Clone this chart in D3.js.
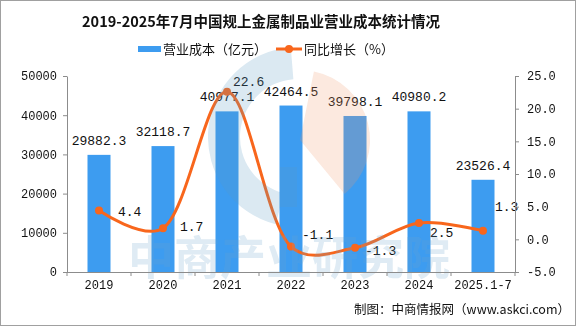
<!DOCTYPE html>
<html>
<head>
<meta charset="utf-8">
<script src="https://cdn.jsdelivr.net/npm/d3@7"></script>
<style>
  body { margin: 0; background: #fff; }
  svg { display: block; }
</style>
</head>
<body>
<svg></svg>
<script>
const width = 576;
const height = 326;
const margin = {top: 76, right: 61, bottom: 54, left: 67};

// data
const years = ["2019", "2020", "2021", "2022", "2023", "2024", "2025.1-7"];
const cost = [29882.3, 32118.7, 40977.1, 42464.5, 39798.1, 40980.2, 23526.4];
const growth = [4.4, 1.7, 22.6, -1.1, -1.3, 2.5, 1.3];
const leftTicks = [0, 10000, 20000, 30000, 40000, 50000];
const rightTicks = [-5, 0, 5, 10, 15, 20, 25];
// label nudges for the growth labels (dx, dy)
const growthLabelShift = [[19, 1], [17, -2], [6, -10], [11, -12], [10, 3], [11, 9], [12, -24]];

const barColor = "#3d9cf0";
const lineColor = "#f8661c";
const axisColor = "#8c8c8c";
const monoFont = "'Liberation Mono', 'DejaVu Sans Mono', monospace";
const cjkFont = "'Noto Sans CJK SC', sans-serif";

let svg = d3.select("svg")
    .attr("width", width)
    .attr("height", height);

// outer frame
svg.append("rect")
    .attr("x", 0.5).attr("y", 0.5)
    .attr("width", width - 1).attr("height", height - 1)
    .attr("fill", "#fff")
    .attr("stroke", "#a0a0a0");

let scaleX = d3.scaleBand()
    .domain(years)
    .range([margin.left, width - margin.right])
    .paddingInner(0)
    .paddingOuter(0);

let scaleY = d3.scaleLinear()
    .domain([0, 50000])
    .range([height - margin.bottom, margin.top]);

let scaleY2 = d3.scaleLinear()
    .domain([-5, 25])
    .range([height - margin.bottom, margin.top]);

const barWidth = 23;

// bars
svg.append("g")
    .selectAll("rect")
    .data(cost)
    .enter()
    .append("rect")
    .attr("x", (d, i) => scaleX(years[i]) + scaleX.bandwidth() / 2 - barWidth / 2)
    .attr("y", d => scaleY(d))
    .attr("width", barWidth)
    .attr("height", d => scaleY(0) - scaleY(d))
    .attr("fill", barColor);

// bar labels
svg.append("g")
    .selectAll("text")
    .data(cost)
    .enter()
    .append("text")
    .attr("x", (d, i) => scaleX(years[i]) + scaleX.bandwidth() / 2)
    .attr("y", d => scaleY(d) - 10)
    .attr("text-anchor", "middle")
    .style("font-family", monoFont)
    .style("font-size", "13px")
    .attr("fill", "#111")
    .text(d => d.toFixed(1));

// growth line
let lineXY = d3.line()
    .x((d, i) => scaleX(years[i]) + scaleX.bandwidth() / 2)
    .y(d => scaleY2(d))
    .curve(d3.curveCatmullRom.alpha(0.3));

svg.append("path")
    .datum(growth)
    .attr("d", lineXY)
    .attr("fill", "none")
    .attr("stroke", lineColor)
    .attr("stroke-width", 3);

svg.append("g")
    .selectAll("circle")
    .data(growth)
    .enter()
    .append("circle")
    .attr("cx", (d, i) => scaleX(years[i]) + scaleX.bandwidth() / 2)
    .attr("cy", d => scaleY2(d))
    .attr("r", 4)
    .attr("fill", lineColor);

svg.append("g")
    .selectAll("text")
    .data(growth)
    .enter()
    .append("text")
    .attr("x", (d, i) => scaleX(years[i]) + scaleX.bandwidth() / 2 + growthLabelShift[i][0])
    .attr("y", (d, i) => scaleY2(d) + growthLabelShift[i][1])
    .attr("dy", "0.35em")
    .style("font-family", monoFont)
    .style("font-size", "13px")
    .attr("fill", "#111")
    .text(d => d.toFixed(1));

// watermark
let mark = svg.append("g").attr("opacity", 0.22).style("pointer-events", "none");
mark.append("path")
    .attr("d", d3.arc()
        .innerRadius(58).outerRadius(90)
        .startAngle(-0.08).endAngle(-Math.PI + 0.25)())
    .attr("transform", "translate(298,137)")
    .attr("fill", "#5b9ac3");
mark.append("rect")
    .attr("x", 280).attr("y", 167).attr("width", 17).attr("height", 40)
    .attr("fill", "#5b9ac3");
mark.append("path")
    .attr("d", d3.arc()
        .innerRadius(0).outerRadius(70)
        .startAngle(0.2).endAngle(Math.PI * 0.78)())
    .attr("transform", "translate(300,140)")
    .attr("fill", "#ef9a6e");
mark.append("text")
    .attr("x", 289).attr("y", 274)
    .attr("text-anchor", "middle")
    .style("font-family", cjkFont)
    .style("font-size", "46px")
    .style("font-weight", "bold")
    .attr("fill", "#6fa6cc")
    .text("中商产业研究院");

// axes
let axisX = d3.axisBottom(scaleX).tickSize(0).tickPadding(8);
let gx = svg.append("g")
    .attr("transform", `translate(0, ${height - margin.bottom})`)
    .call(axisX);
gx.select(".domain").attr("stroke", axisColor).attr("d", `M${margin.left},0.5H${width - margin.right}`);
gx.selectAll("text")
    .style("font-family", monoFont)
    .style("font-size", "12px")
    .attr("fill", "#111");
gx.selectAll(".sep")
    .data(d3.range(years.length + 1))
    .enter()
    .append("line")
    .attr("x1", i => margin.left + i * scaleX.bandwidth())
    .attr("x2", i => margin.left + i * scaleX.bandwidth())
    .attr("y1", 0).attr("y2", 4)
    .attr("stroke", axisColor);

let axisY = d3.axisLeft(scaleY).tickValues(leftTicks).tickSize(4).tickPadding(6).tickSizeOuter(0)
    .tickFormat(d3.format("d"));
let gy = svg.append("g")
    .attr("transform", `translate(${margin.left}, 0)`)
    .call(axisY);
gy.select(".domain").attr("stroke", axisColor);
gy.selectAll("line").attr("stroke", axisColor);
gy.selectAll("text")
    .style("font-family", monoFont)
    .style("font-size", "12px")
    .attr("fill", "#111");

let axisY2 = d3.axisRight(scaleY2).tickValues(rightTicks).tickSize(4).tickPadding(8).tickSizeOuter(0)
    .tickFormat(d3.format(".1f"));
let gy2 = svg.append("g")
    .attr("transform", `translate(${width - margin.right}, 0)`)
    .call(axisY2);
gy2.select(".domain").attr("stroke", axisColor);
gy2.selectAll("line").attr("stroke", axisColor);
gy2.selectAll("text")
    .style("font-family", monoFont)
    .style("font-size", "12px")
    .attr("fill", "#111")
    .text(d => d3.format(".1f")(d).replace("−", "-"));

// title
svg.append("text")
    .attr("x", 261).attr("y", 27)
    .attr("text-anchor", "middle")
    .style("font-family", cjkFont)
    .style("font-size", "14.5px")
    .style("font-weight", "bold")
    .attr("fill", "#111")
    .text("2019-2025年7月中国规上金属制品业营业成本统计情况");

// legend
let legend = svg.append("g");
legend.append("rect")
    .attr("x", 138).attr("y", 46).attr("width", 23).attr("height", 6)
    .attr("fill", barColor);
legend.append("text")
    .attr("x", 163).attr("y", 54)
    .style("font-family", cjkFont)
    .style("font-size", "13px")
    .attr("fill", "#111")
    .text("营业成本（亿元）");
legend.append("line")
    .attr("x1", 276).attr("x2", 302).attr("y1", 49).attr("y2", 49)
    .attr("stroke", lineColor).attr("stroke-width", 3);
legend.append("circle")
    .attr("cx", 289).attr("cy", 49).attr("r", 4)
    .attr("fill", lineColor);
legend.append("text")
    .attr("x", 304).attr("y", 54)
    .style("font-family", cjkFont)
    .style("font-size", "13px")
    .attr("fill", "#111")
    .text("同比增长（%）");

// source
svg.append("text")
    .attr("x", 570).attr("y", 314)
    .attr("text-anchor", "end")
    .style("font-family", cjkFont)
    .style("font-size", "12.5px")
    .attr("fill", "#111")
    .text("制图：中商情报网（www.askci.com）");
</script>
</body>
</html>
